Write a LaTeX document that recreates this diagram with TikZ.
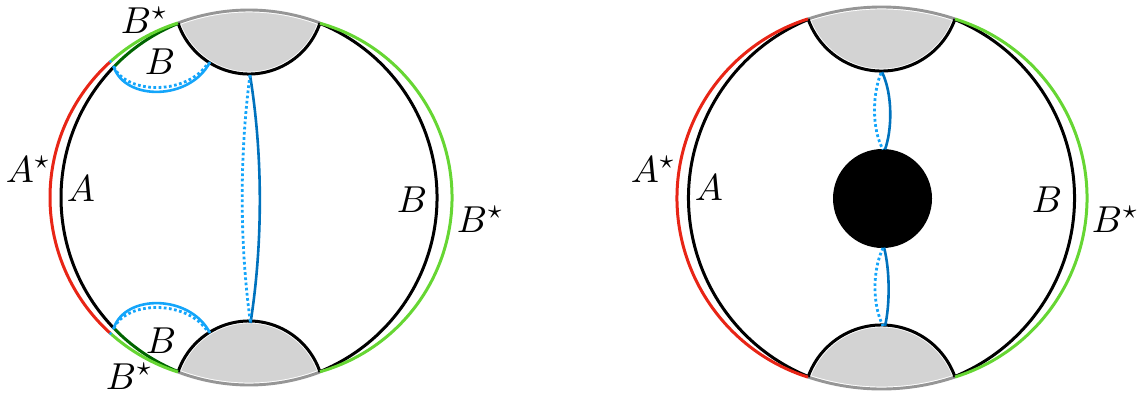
\documentclass[tikz,border=0pt]{standalone}
\definecolor{cred}{RGB}{232,37,22}
\definecolor{cgreen}{RGB}{102,214,51}
\definecolor{cdgreen}{RGB}{0,100,0}
\definecolor{cblue}{RGB}{0,114,189}
\definecolor{clblue}{RGB}{20,165,250}
\definecolor{cgrayline}{RGB}{150,150,150}
\definecolor{cgrayfill}{RGB}{211,211,211}
\tikzset{
  bnd/.style={line width=3pt},
  blk/.style={bnd,black},
  redarc/.style={bnd,cred},
  grnarc/.style={bnd,cgreen},
  dgrnarc/.style={bnd,cdgreen},
  grayarc/.style={line width=2.9pt,cgrayline},
  capfill/.style={fill=cgrayfill,draw=white,line width=4.8pt},
  bsolid/.style={line width=2.6pt,cblue},
  lbsolid/.style={line width=2.6pt,clblue},
  bdot/.style={line width=2.8pt,clblue,dash pattern=on 2.7pt off 2.5pt},
  lab/.style={inner sep=0pt,anchor=base west,scale=3.75,transform shape},
}
\begin{document}
\begin{tikzpicture}[x=1pt,y=-1pt]
\useasboundingbox (0,0) rectangle (1142,394);
% ================= LEFT DIAGRAM =================
\fill[capfill] (178,23) arc[start angle=-110.75,end angle=-69.25,radius=200.4]
   arc[start angle=18.6,end angle=161.4,radius=74.9] -- cycle;
\fill[capfill] (178,372) arc[start angle=110.75,end angle=69.25,radius=200.4]
   arc[start angle=-18.6,end angle=-161.4,radius=74.9] -- cycle;
\draw[grayarc] (178,23) arc[start angle=-110.75,end angle=-69.25,radius=200.4];
\draw[grayarc] (178,372) arc[start angle=110.75,end angle=69.25,radius=200.4];
\draw[blk] (320,23) arc[start angle=18.6,end angle=161.4,radius=74.9];
\draw[blk] (320,372) arc[start angle=-18.6,end angle=-161.4,radius=74.9];
\draw[blk] (249,197.5) ++(136:188) arc[start angle=136,end angle=224,radius=188];
\draw[dgrnarc] (249,197.5) ++(112.14:188) arc[start angle=112.14,end angle=136,radius=188];
\draw[dgrnarc] (249,197.5) ++(224:188) arc[start angle=224,end angle=247.86,radius=188];
\draw[blk] (249,197.5) ++(-67.86:188) arc[start angle=-67.86,end angle=67.86,radius=188];
\draw[redarc] (233,197.5) ++(132:183) arc[start angle=132,end angle=228,radius=183];
\draw[grnarc] (233,197.5) ++(107.5:183) arc[start angle=107.5,end angle=132,radius=183];
\draw[grnarc] (233,197.5) ++(228:183) arc[start angle=228,end angle=252.5,radius=183];
\draw[grnarc] (271,197.5) ++(-74.3:181) arc[start angle=-74.3,end angle=74.3,radius=181];
\coordinate (tj) at (113.8,66.9);
\coordinate (bj) at (113.8,328.1);
\coordinate (tc) at (210,62);
\coordinate (bc) at (210,333);
\draw[lbsolid] (tj) .. controls (125,101) and (190,101) .. (tc);
\draw[bdot] (tj) .. controls (127,95) and (188,95) .. (208,63);
\draw[lbsolid] (bj) .. controls (125,294) and (190,294) .. (bc);
\draw[bdot] (bj) .. controls (127,300) and (188,300) .. (208,332);
\fill[clblue] (110.5,61.5) circle (1.7);
\fill[clblue] (tj) circle (1.7);
\fill[clblue] (110.5,333.5) circle (1.7);
\fill[clblue] (bj) circle (1.7);
\coordinate (ltop) at (250,75);
\coordinate (lbot) at (250.5,323);
\draw[bsolid] (ltop) .. controls (263,155) and (263,243) .. (lbot);
\draw[bdot] (ltop) .. controls (239.5,155) and (239.5,243) .. (lbot);
\node[lab] (l1) at (120,33) {$B^\star$};
\node[lab] (l2) at (144,74) {$B$};
\node[lab] (l3) at (5,182) {$A^\star$};
\node[lab] (l4) at (66,201) {$A$};
\node[lab] (l5) at (396,212) {$B$};
\node[lab] (l6) at (456,232) {$B^\star$};
\node[lab] (l7) at (145,353) {$B$};
\node[lab] (l8) at (105,389) {$B^\star$};
% ================= RIGHT DIAGRAM =================
\fill[capfill] (808,19) arc[start angle=-108.55,end angle=-71.45,radius=231.1]
   arc[start angle=19.4,end angle=160.6,radius=77.9] -- cycle;
\fill[capfill] (808,377) arc[start angle=108.55,end angle=71.45,radius=231.1]
   arc[start angle=-19.4,end angle=-160.6,radius=77.9] -- cycle;
\draw[grayarc] (808,19) arc[start angle=-108.55,end angle=-71.45,radius=231.1];
\draw[grayarc] (808,377) arc[start angle=108.55,end angle=71.45,radius=231.1];
\draw[blk] (955,19) arc[start angle=19.4,end angle=160.6,radius=77.9];
\draw[blk] (955,377) arc[start angle=-19.4,end angle=-160.6,radius=77.9];
\draw[blk] (881.5,198) ++(112.33:193) arc[start angle=112.33,end angle=247.67,radius=193];
\draw[blk] (881.5,198) ++(-67.67:193) arc[start angle=-67.67,end angle=67.67,radius=193];
\draw[redarc] (865,198) ++(107.66:188) arc[start angle=107.66,end angle=252.34,radius=188];
\draw[grnarc] (899.6,198) ++(-72.8:187.4) arc[start angle=-72.8,end angle=72.8,radius=187.4];
\fill[black] (882.5,198.5) circle (49.5);
\draw[bsolid] (882,72) .. controls (893,95) and (892,130) .. (885,149.5);
\draw[bdot] (881,73) .. controls (872,95) and (872,130) .. (883,149.5);
\draw[bsolid] (884,247.5) .. controls (890,270) and (890,305) .. (885,326);
\draw[bdot] (883,248) .. controls (872.3,270) and (872.3,305) .. (883,326);
\node[lab] (r1) at (630,182) {$A^\star$};
\node[lab] (r2) at (694,200) {$A$};
\node[lab] (r3) at (1031,212) {$B$};
\node[lab] (r4) at (1091,232) {$B^\star$};
\end{tikzpicture}
\end{document}
